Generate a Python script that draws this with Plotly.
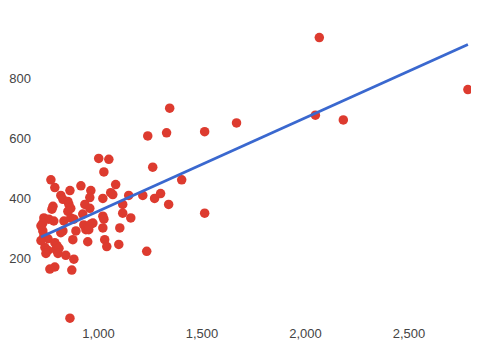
import numpy as np
import plotly.graph_objects as go

x_vals = [2067, 2785, 2048, 2183, 1667, 1344, 1238, 1329, 1513, 1001,
          1050, 1026, 1262, 1402, 1513, 1233,
          770, 789, 915, 862, 963, 958, 1083, 1059, 1069, 1146,
          1214, 1271, 1300, 1339, 818, 828, 852, 857, 866, 852,
          780, 775, 934, 958, 1021, 1117, 1117, 1021, 1026, 1156,
          924, 736, 760, 784, 731, 833, 866, 881, 973, 929,
          939, 948, 963, 1021, 1103, 731, 736, 756, 828, 891,
          876, 789, 799, 948, 1030, 953, 1098, 1040, 741, 756,
          746, 794, 809, 804, 842, 881, 789, 765, 871, 862,
          818, 722, 722]
y_vals = [935, 762, 677, 661, 651, 700, 608, 618, 622, 533,
          530, 488, 504, 462, 351, 224,
          462, 436, 442, 426, 426, 403, 446, 419, 413, 410,
          410, 400, 416, 380, 410, 397, 390, 380, 367, 357,
          374, 364, 380, 367, 400, 380, 351, 341, 331, 335,
          348, 335, 331, 325, 318, 325, 335, 331, 318, 312,
          296, 302, 315, 302, 302, 292, 276, 266, 292, 292,
          263, 253, 243, 256, 263, 296, 247, 240, 237, 227,
          217, 230, 234, 217, 211, 198, 172, 165, 162, 2,
          286, 309, 260]

x_ticks = [1000, 1500, 2000, 2500]
y_ticks = [200, 400, 600, 800]

xa = np.array(x_vals, dtype=float)
ya = np.array(y_vals, dtype=float)
slope, intercept = np.polyfit(xa, ya, 1)
trend_x = [xa.min(), xa.max()]
trend_y = [slope * v + intercept for v in trend_x]

fig = go.Figure()
fig.add_trace(go.Scatter(
    x=x_vals, y=y_vals, mode="markers",
    marker=dict(color="#dd3b2f", size=9.5, line=dict(width=0)),
    hoverinfo="x+y", showlegend=False,
))
fig.add_trace(go.Scatter(
    x=trend_x, y=trend_y, mode="lines",
    line=dict(color="#3a68cf", width=2.8),
    showlegend=False, hoverinfo="skip",
))

fig.update_layout(
    width=480, height=350,
    margin=dict(l=35, r=9, t=20, b=20),
    paper_bgcolor="white", plot_bgcolor="white",
    font=dict(family="Liberation Sans, Arial, sans-serif", size=13, color="#444444"),
    xaxis=dict(range=[698, 2800], tickvals=x_ticks, tickformat=",",
               showgrid=False, zeroline=False, showline=False, ticks=""),
    yaxis=dict(range=[-17.5, 993.3], tickvals=y_ticks,
               showgrid=False, zeroline=False, showline=False, ticks="",
               ticklabelstandoff=4),
)

fig.write_html("out.html")
